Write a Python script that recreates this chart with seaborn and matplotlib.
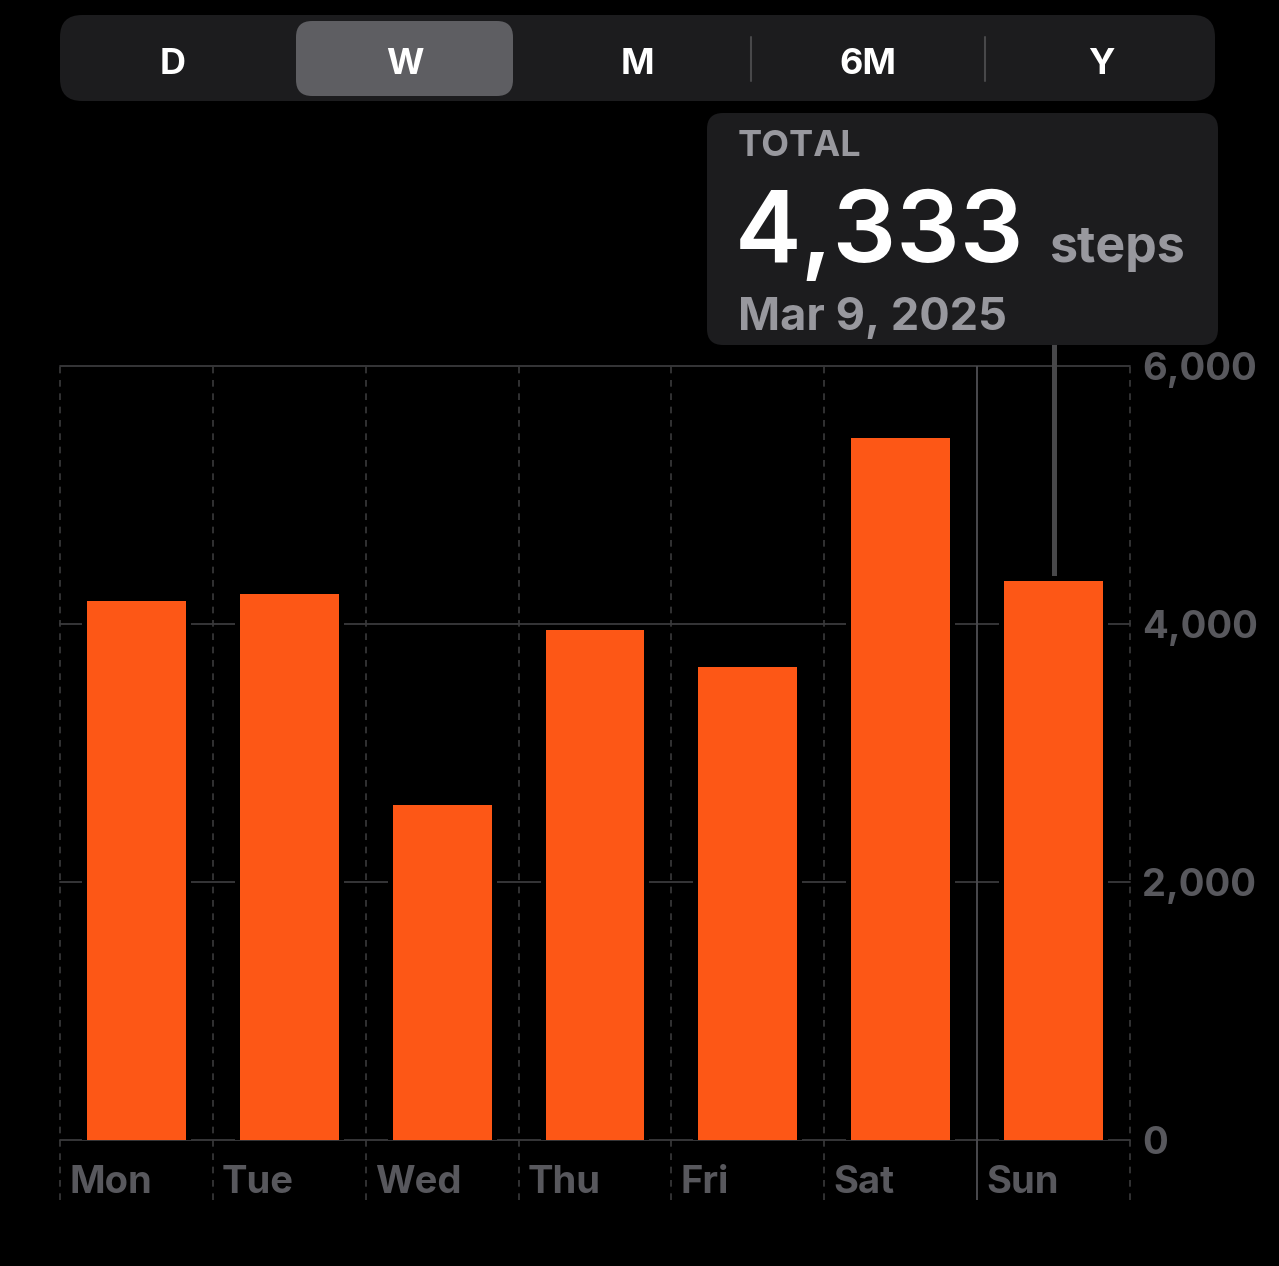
import numpy as np
import pandas as pd
import matplotlib
matplotlib.use("Agg")
import matplotlib.pyplot as plt
import matplotlib.patheffects as pe
from matplotlib.patches import FancyBboxPatch
from matplotlib.transforms import ScaledTranslation
import seaborn as sns

# ---- data ----
days = ["Mon", "Tue", "Wed", "Thu", "Fri", "Sat", "Sun"]
steps = [4180, 4230, 2600, 3950, 3670, 5440, 4333]
yticks = [0, 2000, 4000, 6000]
ytick_labels = ["0", "2,000", "4,000", "6,000"]
segments = ["D", "W", "M", "6M", "Y"]
selected_segment = "W"
tooltip_title = "TOTAL"
tooltip_value = "4,333"
tooltip_unit = "steps"
tooltip_date = "Mar 9, 2025"
highlight_day = "Sun"

ORANGE = "#FD5716"
GRID = "#3a3a3c"
LABEL = "#58585d"
PANEL = "#1c1c1e"
SUB = "#98989e"

W, H = 1279, 1266
sns.set_theme(style="dark")
plt.rcParams["font.family"] = ["Inter", "DejaVu Sans"]

fig = plt.figure(figsize=(W / 100, H / 100), dpi=100, facecolor="black")
ax = fig.add_axes([60 / W, 126 / H, 1070 / W, 774 / H])
ax.set_facecolor("black")

df = pd.DataFrame({"day": days, "steps": steps})
sns.barplot(data=df, x="day", y="steps", color=ORANGE, saturation=1,
            width=0.647, linewidth=0, ax=ax, zorder=3)
for p in ax.patches:
    p.set_path_effects([pe.Stroke(linewidth=7.2, foreground="black"), pe.Normal()])

ax.set_xlim(-0.5, len(days) - 0.5)
ax.set_ylim(0, 6000)
for s in ax.spines.values():
    s.set_visible(False)

# horizontal grid
for yv in yticks:
    ax.axhline(yv, color=GRID, lw=1.3, zorder=1, clip_on=False)

# vertical dividers (extend below the axis)
ymin_ext = -465
hi = days.index(highlight_day)
for i in range(len(days) + 1):
    xb = i - 0.5
    if i == hi:
        ax.vlines(xb, ymin_ext, 6000, color="#4a4a4e", lw=1.4, zorder=1, clip_on=False)
    else:
        ax.vlines(xb, ymin_ext, 6000, color=GRID, lw=1.2, linestyles=(0, (4, 4)),
                  zorder=1, clip_on=False)

# tooltip connector line
ax.vlines(hi, steps[hi], 6170, color="#48484a", lw=3.6, zorder=2, clip_on=False)

# y ticks on right
ax.yaxis.tick_right()
ax.set_yticks(yticks)
ax.set_yticklabels(ytick_labels)
ax.tick_params(axis="y", length=0, pad=9, labelsize=27.5, labelcolor=LABEL)
for t in ax.get_yticklabels():
    t.set_fontweight("bold")
    t.set_ha("left")

# x ticks: left-aligned at column starts
ax.set_xticks(np.arange(len(days)) - 0.5)
ax.set_xticklabels(days)
ax.tick_params(axis="x", length=0, pad=18, labelsize=27.5, labelcolor=LABEL)
off = ScaledTranslation(9 / 100, 0, fig.dpi_scale_trans)
for t in ax.get_xticklabels():
    t.set_fontweight("bold")
    t.set_ha("left")
    t.set_transform(t.get_transform() + off)
ax.set_xlabel("")
ax.set_ylabel("")
ax.grid(False)


def fx(x):
    return x / W


def fy(y):
    return 1 - y / H


def rbox(x0, y0, x1, y1, r, color, z=1):
    p = FancyBboxPatch((fx(x0), fy(y1)), (x1 - x0) / W, (y1 - y0) / H,
                       boxstyle=f"round,pad=0,rounding_size={r / W}",
                       mutation_aspect=W / H, transform=fig.transFigure,
                       facecolor=color, edgecolor="none", zorder=z)
    fig.patches.append(p)


# segmented control
rbox(60, 15, 1215, 101, 22, PANEL)
seg_centers = [173, 405, 637, 868, 1101]
for name, cx in zip(segments, seg_centers):
    if name == selected_segment:
        rbox(296, 21, 513, 96, 16, "#5e5e62", z=2)
for sx in [751, 985]:
    fig.add_artist(plt.Line2D([fx(sx), fx(sx)], [fy(37), fy(81)], color="#48484a",
                              lw=1.5, transform=fig.transFigure))
for name, cx in zip(segments, seg_centers):
    fig.text(fx(cx), fy(74), name, color="white", fontsize=26, fontweight="bold",
             ha="center", va="baseline")

# tooltip
rbox(707, 113, 1218, 345, 16, PANEL)
fig.text(fx(738), fy(156), tooltip_title, color=SUB, fontsize=26, fontweight="bold",
         ha="left", va="baseline")
fig.text(fx(735), fy(262), tooltip_value, color="white", fontsize=72, fontweight="semibold",
         ha="left", va="baseline")
fig.text(fx(1049), fy(262), tooltip_unit, color=SUB, fontsize=36, fontweight="bold",
         ha="left", va="baseline")
fig.text(fx(738), fy(330), tooltip_date, color=SUB, fontsize=32.5, fontweight="bold",
         ha="left", va="baseline")

fig.savefig("out.png", dpi=100, facecolor="black")
